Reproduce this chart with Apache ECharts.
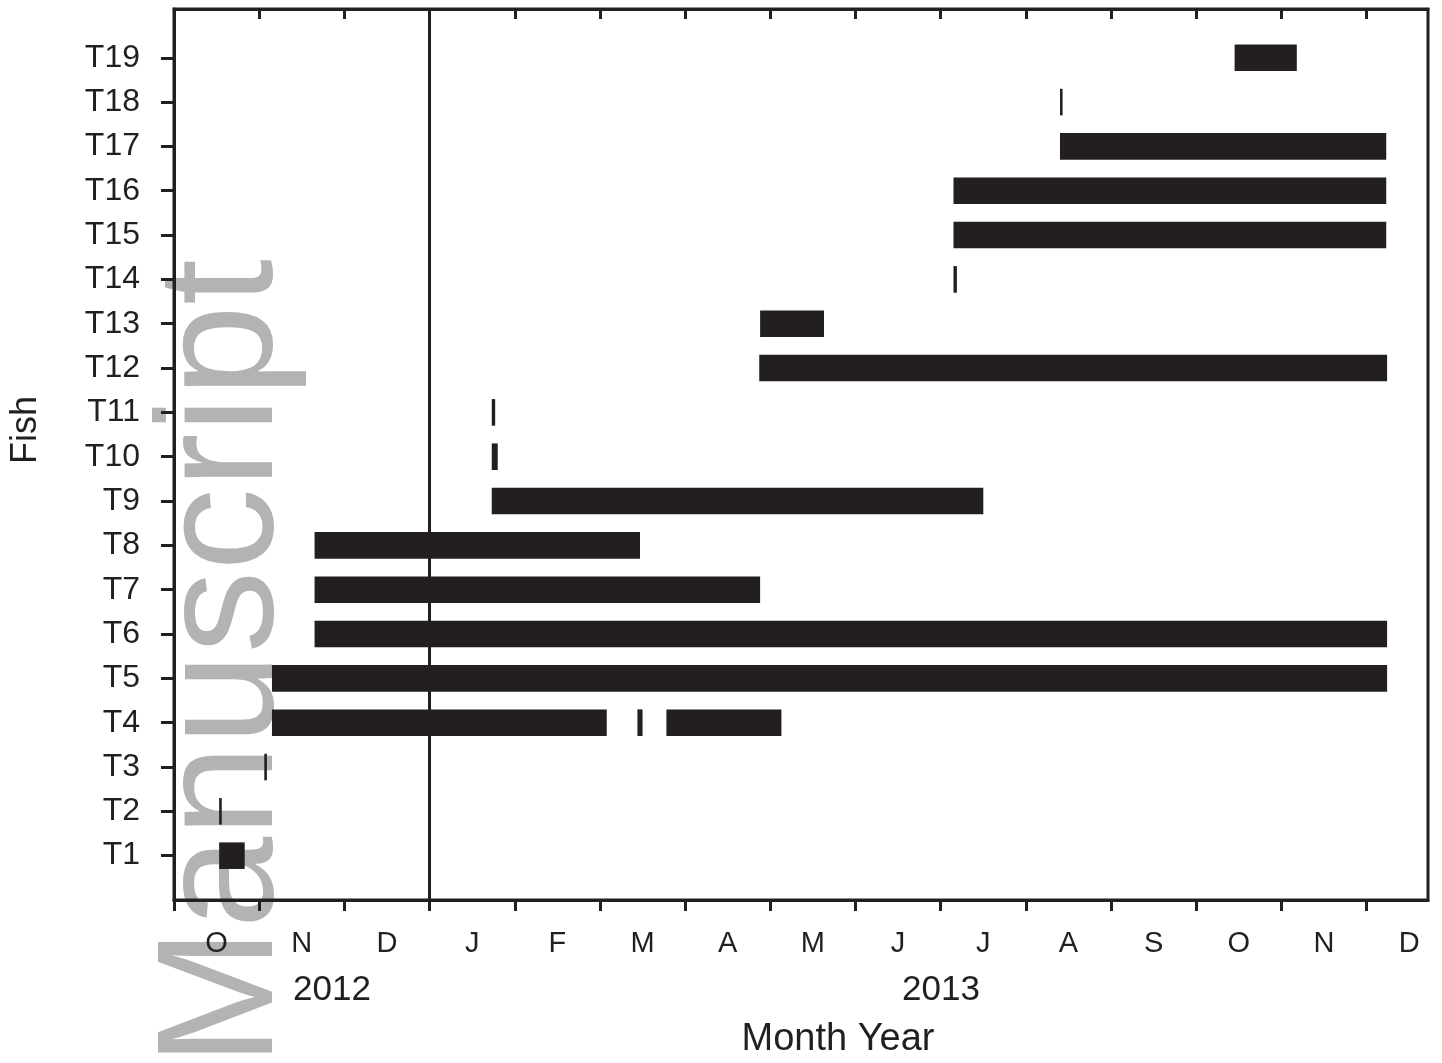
<!DOCTYPE html>
<html>
<head>
<meta charset="utf-8">
<script src="https://cdn.jsdelivr.net/npm/echarts@6/dist/echarts.min.js"></script>
<style>
  html, body { margin: 0; padding: 0; background: #fff; }
  #main { width: 1442px; height: 1063px; }
</style>
</head>
<body>
<div id="main"></div>
<script>
// x in months counted from 1 Oct 2012 (every month drawn the same width)
var monthLabels = ['O', 'N', 'D', 'J', 'F', 'M', 'A', 'M', 'J', 'J', 'A', 'S', 'O', 'N', 'D'];
var yearLabels = ['2012', '2013'];
var fishCount = 19;

// one entry per detection segment
var segFish  = [1, 2, 3, 4, 4, 4, 5, 6, 7, 8, 9, 10, 11, 12, 13, 14, 15, 16, 17, 18, 19];
var segStart = [0.53, 0.53, 1.06, 1.15, 5.44, 5.78, 1.15, 1.65, 1.65, 1.65, 3.73, 3.73, 3.73, 6.87, 6.88, 9.15, 9.15, 9.15, 10.40, 10.40, 12.45];
var segEnd   = [0.83, 0.56, 1.09, 5.08, 5.50, 7.13, 14.24, 14.24, 6.88, 5.47, 9.50, 3.80, 3.77, 14.24, 7.63, 9.19, 14.23, 14.23, 14.23, 10.43, 13.18];

var newYear = 3; // 1 Jan 2013

var ink = '#231f20';
var font = '"Liberation Sans", Arial, sans-serif';

var data = [];
for (var i = 0; i < segFish.length; i++) {
  data.push([segStart[i], segEnd[i], segFish[i]]);
}

var tickVals = [];
for (var k = 0; k <= 14; k++) tickVals.push(k);
var labelVals = monthLabels.map(function (m, i) { return i + 0.5; });
var fishVals = [];
for (var f = 1; f <= fishCount; f++) fishVals.push(f);

function renderItem(params, api) {
  var a = api.coord([api.value(0), api.value(2)]);
  var b = api.coord([api.value(1), api.value(2)]);
  var h = api.size([0, 0.6])[1];
  var w = Math.max(b[0] - a[0], 2.6);
  return {
    type: 'rect',
    shape: { x: a[0], y: a[1] - h / 2, width: w, height: h },
    style: { fill: ink }
  };
}

var chart = echarts.init(document.getElementById('main'));

var option = {
  animation: false,
  backgroundColor: '#fff',
  grid: {
    left: 174, right: 14, top: 9, bottom: 163,
    show: true, borderColor: ink, borderWidth: 3
  },
  xAxis: [
    {
      type: 'value', min: 0, max: 14.72, position: 'bottom',
      splitLine: { show: false },
      axisLine: { show: true, lineStyle: { color: ink, width: 3 } },
      axisTick: { show: true, inside: false, length: 11, customValues: tickVals, lineStyle: { color: ink, width: 3 } },
      axisLabel: {
        show: true, customValues: labelVals, margin: 29,
        color: ink, fontSize: 29, fontFamily: font,
        formatter: function (v) { return monthLabels[Math.floor(v)]; }
      }
    },
    {
      type: 'value', min: 0, max: 14.72, position: 'top',
      splitLine: { show: false },
      axisLine: { show: true, lineStyle: { color: ink, width: 3 } },
      axisTick: { show: true, inside: true, length: 10, customValues: tickVals.slice(1), lineStyle: { color: ink, width: 3 } },
      axisLabel: { show: false }
    }
  ],
  yAxis: {
    type: 'value', min: 0, max: 20.1,
    splitLine: { show: false },
    axisLine: { show: true, lineStyle: { color: ink, width: 3 } },
    axisTick: { show: true, length: 13, customValues: fishVals, lineStyle: { color: ink, width: 3 } },
    axisLabel: {
      customValues: fishVals, margin: 34,
      color: ink, fontSize: 32, fontFamily: font,
      formatter: function (v) { return 'T' + v; }
    }
  },
  graphic: [
    {
      type: 'text', x: 226, y: 1066, rotation: Math.PI / 2, z: -10,
      style: { text: 'Manuscript', font: '165px ' + font, fill: '#b3b3b3', align: 'left', verticalAlign: 'middle' }
    },
    {
      type: 'text', x: 332, y: 990,
      style: { text: yearLabels[0], font: '35px ' + font, fill: ink, align: 'center', verticalAlign: 'middle' }
    },
    {
      type: 'text', x: 941, y: 990,
      style: { text: yearLabels[1], font: '35px ' + font, fill: ink, align: 'center', verticalAlign: 'middle' }
    },
    {
      type: 'text', x: 838, y: 1040,
      style: { text: 'Month Year', font: '38px ' + font, fill: ink, align: 'center', verticalAlign: 'middle' }
    },
    {
      type: 'text', x: 26, y: 430, rotation: Math.PI / 2,
      style: { text: 'Fish', font: '36px ' + font, fill: ink, align: 'center', verticalAlign: 'middle' }
    }
  ],
  series: [
    {
      type: 'custom',
      renderItem: renderItem,
      encode: { x: [0, 1], y: 2 },
      data: data,
      markLine: {
        silent: true,
        symbol: 'none',
        label: { show: false },
        lineStyle: { color: ink, width: 3, type: 'solid' },
        data: [{ xAxis: newYear }]
      }
    }
  ]
};

chart.setOption(option);
</script>
</body>
</html>
